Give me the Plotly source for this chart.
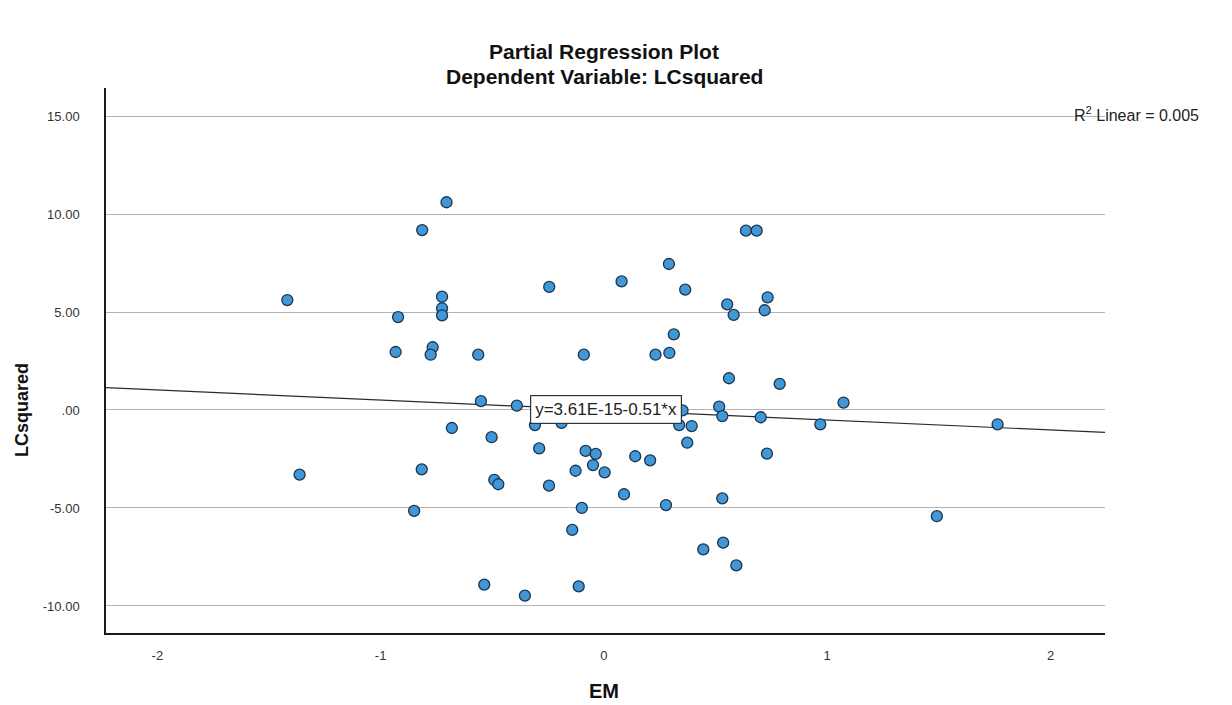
import plotly.graph_objects as go
import numpy as np

# ---- data ----
em = [-0.705, -0.814, -1.418, -0.725, -0.725, -0.725, -0.922, -0.933, -0.767, -0.776, -0.563, -0.551,
      0.636, 0.684, 0.291, -0.245, 0.079, 0.364, 0.552, 0.581, 0.313, -0.090, 0.231, 0.293, 0.560,
      0.733, 0.720, 0.787, 1.073,
      -0.390, -0.681, -0.503, -1.363, -0.816, -0.491, -0.473, -0.850, -0.536,
      -0.309, -0.190, 0.337, 0.352, 0.393, 0.516, 0.530, 0.702, -0.290, -0.082, -0.037, -0.049,
      -0.127, 0.003, 0.140, 0.207, 0.373, -0.246, 0.090, 0.278, 0.530, -0.099, -0.142, 0.445,
      0.534, 0.593, -0.113, -0.354,
      0.969, 0.730, 1.491, 1.763]
lc_squared = [10.60, 9.18, 5.61, 5.78, 5.19, 4.83, 4.74, 2.96, 3.20, 2.82, 2.82, 0.45,
              9.15, 9.15, 7.45, 6.28, 6.56, 6.14, 5.39, 4.85, 3.86, 2.82, 2.82, 2.91, 1.62,
              5.75, 5.09, 1.33, 0.38,
              0.22, -0.92, -1.39, -3.30, -3.03, -3.57, -3.79, -5.15, -8.91,
              -0.77, -0.66, -0.77, -0.02, -0.82, 0.17, -0.31, -0.37, -1.96, -2.09, -2.24, -2.81,
              -3.10, -3.18, -2.36, -2.57, -1.67, -3.86, -4.30, -4.85, -4.51, -5.00, -6.12, -7.11,
              -6.77, -7.93, -9.00, -9.47,
              -0.73, -2.23, -5.42, -0.73]

fit_intercept_label = "3.61E-15"
fit_intercept = 3.61e-15
fit_slope = -0.51
r2_linear = 0.005

x_ticks = [-2, -1, 0, 1, 2]
x_tick_labels = ["-2", "-1", "0", "1", "2"]
y_ticks = [-10, -5, 0, 5, 10, 15]
y_tick_labels = ["-10.00", "-5.00", ".00", "5.00", "10.00", "15.00"]

x_range = [-2.23, 2.244]
y_range = [-11.38, 16.43]

FONT = "Liberation Sans, Arial, sans-serif"

fig = go.Figure()

# regression line across the full x range
fx = np.array(x_range)
fig.add_trace(go.Scatter(
    x=fx, y=fit_intercept + fit_slope * fx, mode="lines",
    line=dict(color="#2b2b2b", width=1.2), hoverinfo="skip", showlegend=False))

fig.add_trace(go.Scatter(
    x=em, y=lc_squared, mode="markers",
    marker=dict(size=11, color="#4298d6", line=dict(color="#1a3550", width=1.3)),
    showlegend=False))

# the page body has an 8px margin, so the figure is 8px smaller and shifted
fig.update_layout(
    width=1224, height=697,
    margin=dict(l=98, r=127, t=80, b=72),
    paper_bgcolor="white", plot_bgcolor="white",
    font=dict(family=FONT, color="#222222", size=12),
    xaxis=dict(range=x_range, tickvals=x_ticks, ticktext=x_tick_labels,
               showgrid=False, zeroline=False, showline=True, linecolor="#1a1a1a", linewidth=1.5,
               ticks="", ticklabelstandoff=10, tickfont=dict(size=13, color="#333333")),
    yaxis=dict(range=y_range, tickvals=y_ticks, ticktext=y_tick_labels,
               showgrid=True, gridcolor="#b4b4b4", gridwidth=1.2, zeroline=False,
               showline=True, linecolor="#1a1a1a", linewidth=1.5,
               ticks="", ticklabelstandoff=22, tickfont=dict(size=13, color="#333333")),
)

annotations = [
    dict(text="<b>Partial Regression Plot</b>", xref="paper", yref="paper",
         x=0.4985, y=1.067, xanchor="center", yanchor="middle", showarrow=False,
         font=dict(size=21, family=FONT, color="#111111")),
    dict(text="<b>Dependent Variable: LCsquared</b>", xref="paper", yref="paper",
         x=0.4985, y=1.022, xanchor="center", yanchor="middle", showarrow=False,
         font=dict(size=21, family=FONT, color="#111111")),
    dict(text="<b>LCsquared</b>", xref="paper", yref="paper", x=-0.0841, y=0.409,
         xanchor="center", yanchor="middle", textangle=-90, showarrow=False,
         font=dict(size=18, family=FONT, color="#111111")),
    dict(text="<b>EM</b>", xref="paper", yref="paper", x=0.4985, y=-0.1064,
         xanchor="center", yanchor="middle", showarrow=False,
         font=dict(size=20, family=FONT, color="#111111")),
    dict(text=f"R<sup>2</sup> Linear = {r2_linear:.3f}", xref="paper", yref="paper",
         x=0.967, y=0.952, xanchor="left", yanchor="middle", showarrow=False,
         font=dict(size=16, family=FONT, color="#222222")),
    dict(text=f"y={fit_intercept_label}{fit_slope:.2f}*x",
         xref="x", yref="y", x=0.007, y=0.0, xanchor="center", yanchor="middle",
         showarrow=False, bgcolor="white", bordercolor="#333333", borderwidth=1.2, borderpad=4,
         font=dict(size=17, family=FONT, color="#222222")),
]
fig.update_layout(annotations=annotations)

fig.write_html("out.html")
